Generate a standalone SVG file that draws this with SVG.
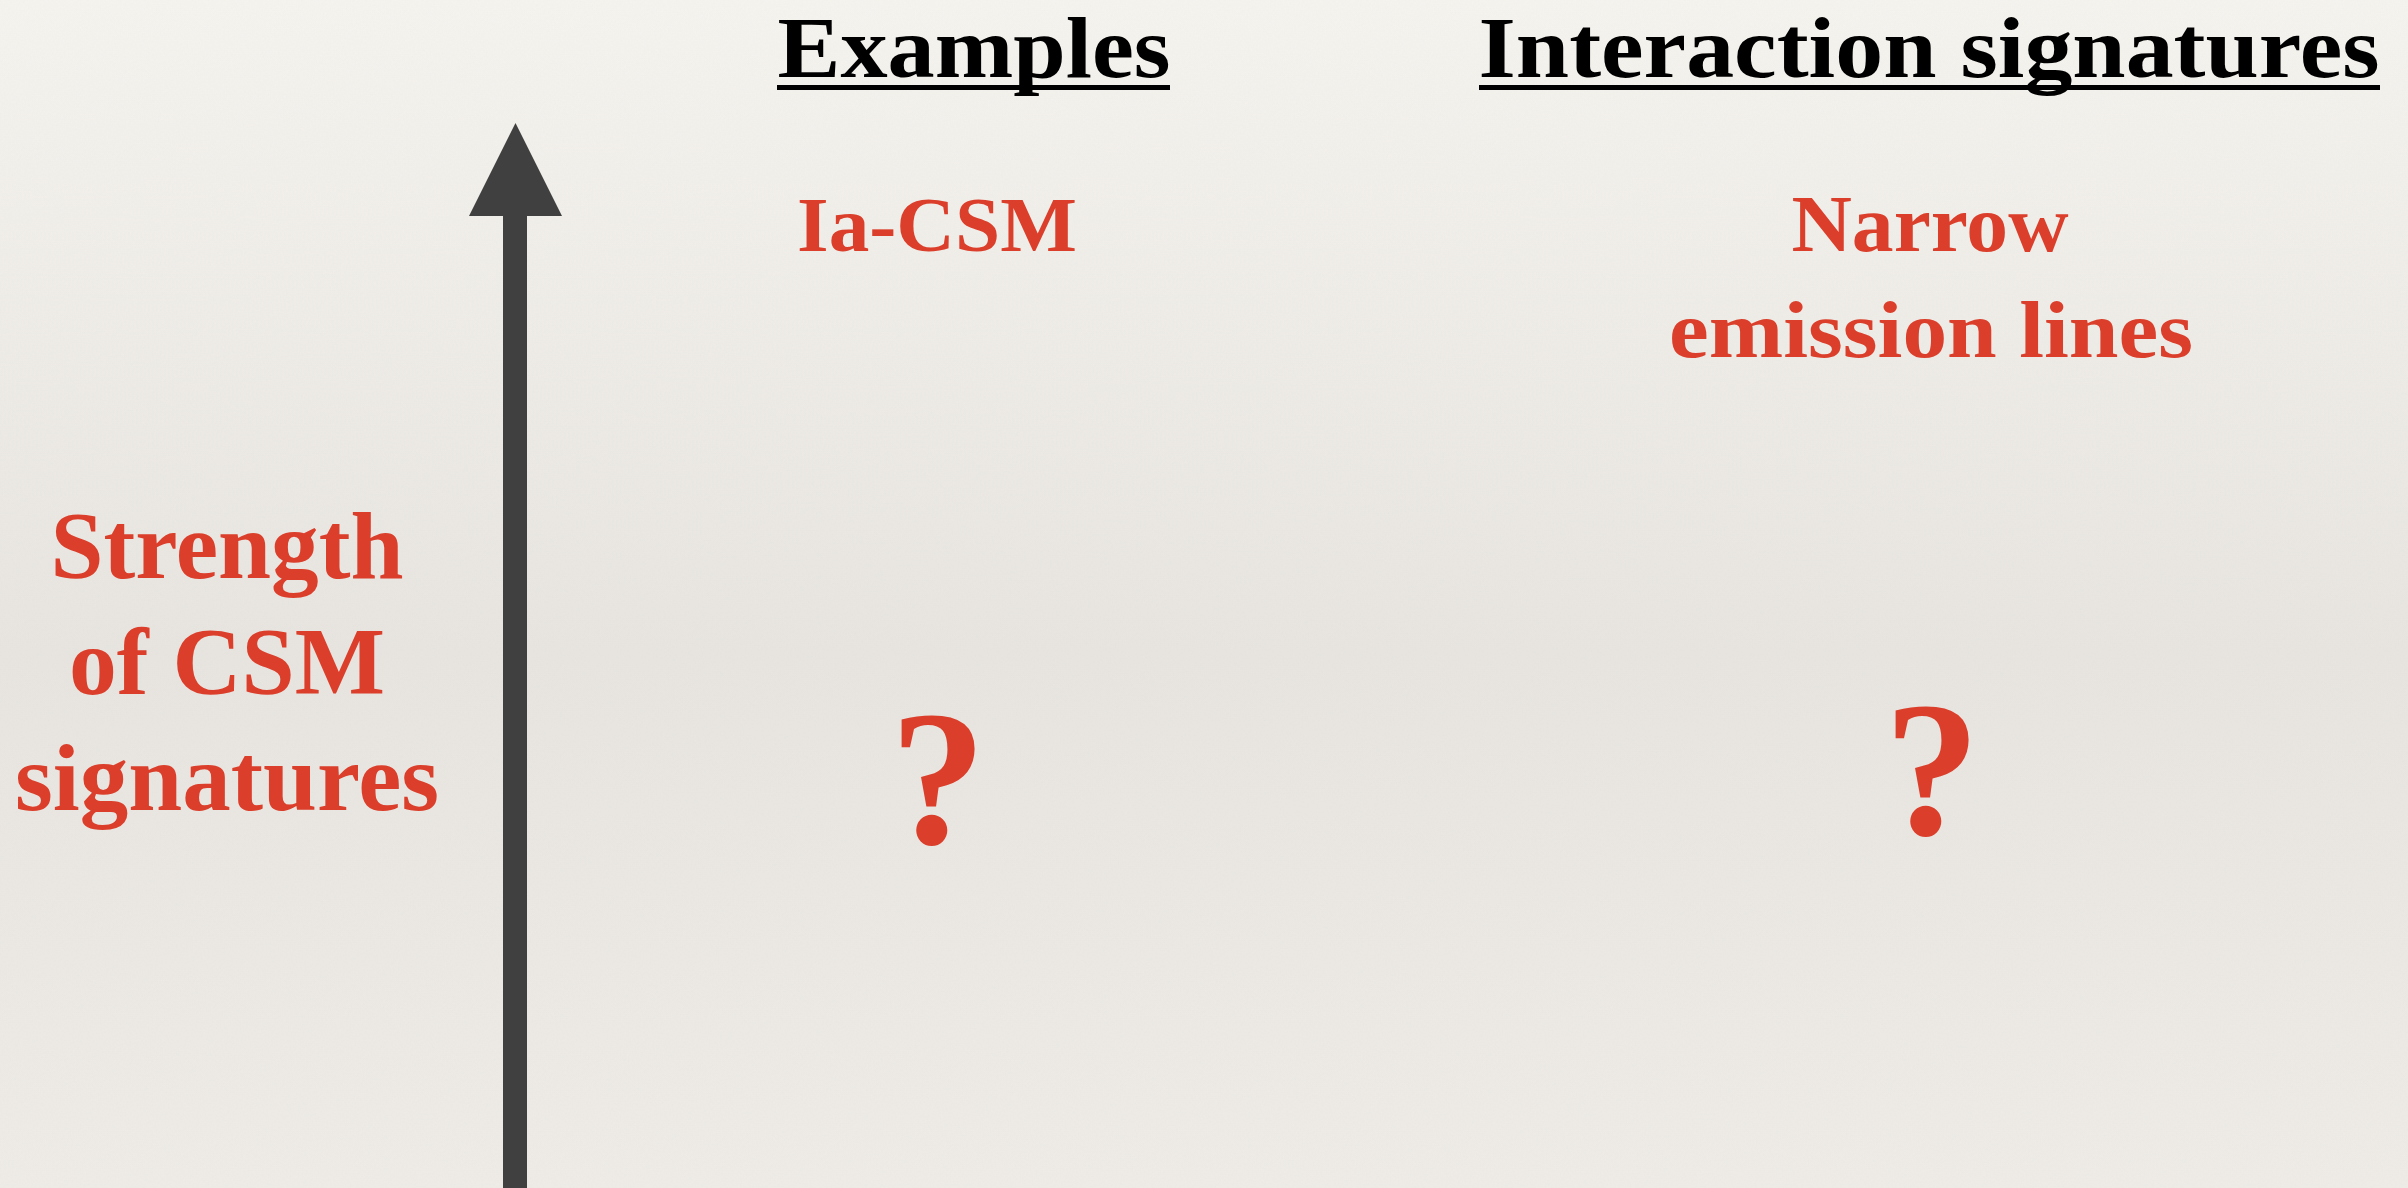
<svg xmlns="http://www.w3.org/2000/svg" width="2408" height="1188" viewBox="0 0 2408 1188">
<defs>
<linearGradient id="bg" x1="0" y1="0" x2="0" y2="1">
<stop offset="0" stop-color="#F6F4EF"/>
<stop offset="0.55" stop-color="#E8E5E0"/>
<stop offset="1" stop-color="#EFECE7"/>
</linearGradient>
<filter id="paper" x="0" y="0" width="100%" height="100%">
<feTurbulence type="fractalNoise" baseFrequency="0.6" numOctaves="2" seed="3" result="n"/>
<feColorMatrix in="n" type="matrix" values="0 0 0 0 0.5  0 0 0 0 0.5  0 0 0 0 0.5  0 0 0 0.06 0"/>
</filter>
</defs>
<style>
.hdr{font-family:"Liberation Serif",serif;font-weight:bold;font-size:87px;fill:#000;text-anchor:middle}
.red{font-family:"Liberation Serif",serif;font-weight:bold;fill:#DB3F2B;text-anchor:middle}
.ul{fill:#000}
.q{font-size:192px}
</style>
<rect width="2408" height="1188" fill="url(#bg)"/>
<rect width="2408" height="1188" filter="url(#paper)"/>
<g id="header-examples">
<text class="hdr" x="974" y="77" textLength="393" lengthAdjust="spacingAndGlyphs">Examples</text>
<rect class="ul" x="777" y="85" width="393" height="5"/>
</g>
<g id="header-interaction">
<text class="hdr" x="1929" y="77" textLength="901" lengthAdjust="spacingAndGlyphs">Interaction signatures</text>
<rect class="ul" x="1479" y="85" width="901" height="5"/>
</g>
<g id="connectors">
<rect x="503" y="214" width="24" height="974" fill="#404040"/>
<polygon points="515.5,123 469,216 562,216" fill="#404040"/>
</g>
<g id="axis-label">
<text class="red" font-size="96" x="227" y="578" textLength="353" lengthAdjust="spacingAndGlyphs">Strength</text>
<text class="red" font-size="96" x="227" y="694" textLength="316" lengthAdjust="spacingAndGlyphs">of CSM</text>
<text class="red" font-size="96" x="227" y="810" textLength="424" lengthAdjust="spacingAndGlyphs">signatures</text>
</g>
<g id="example-ia-csm">
<text class="red" font-size="78" x="937" y="251" textLength="280" lengthAdjust="spacingAndGlyphs">Ia-CSM</text>
</g>
<g id="signature-narrow">
<text class="red" font-size="80" x="1930" y="251" textLength="277" lengthAdjust="spacingAndGlyphs">Narrow</text>
<text class="red" font-size="80" x="1931" y="357" textLength="524" lengthAdjust="spacingAndGlyphs">emission lines</text>
</g>
<g id="example-unknown">
<text class="red q" x="938" y="843">?</text>
</g>
<g id="signature-unknown">
<text class="red q" x="1932" y="834">?</text>
</g>
</svg>
